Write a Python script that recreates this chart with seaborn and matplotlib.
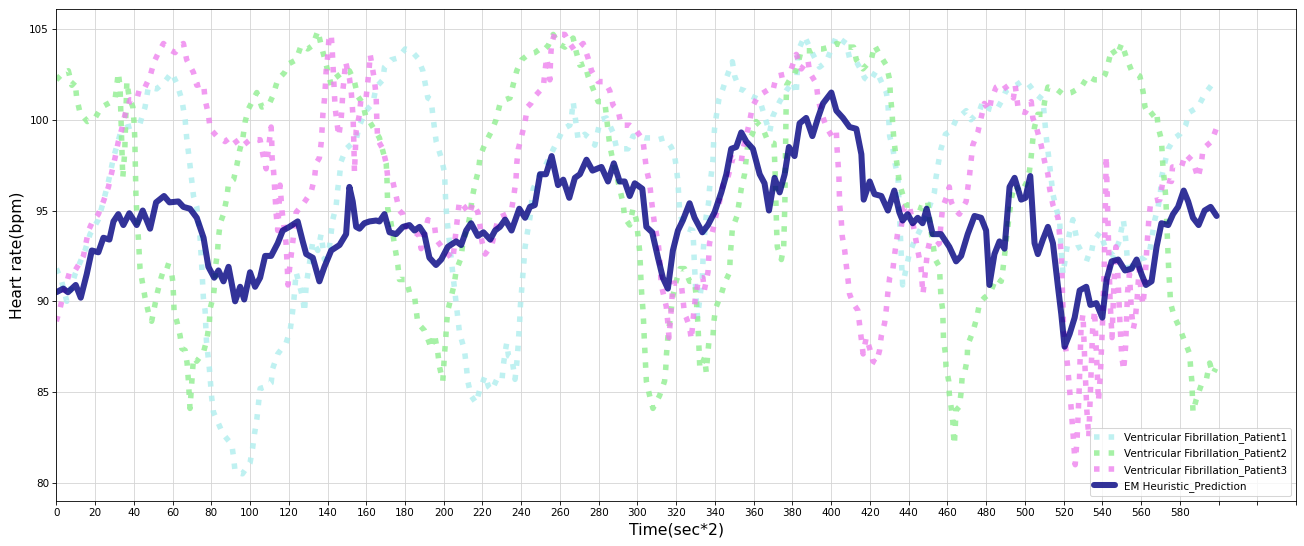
import matplotlib
matplotlib.use("Agg")
import matplotlib.pyplot as plt
import seaborn as sns
import pandas as pd

# (time, heart rate) points
p1_pts = [
    (0, 91.8), (2.5, 91.2), (5.4, 90.0), (9.7, 91.5), (14.8, 92.8), (17.4, 93.7), (21.7, 94.5),
    (24.3, 95.5), (26.9, 96.6), (29.5, 97.9), (32.9, 99.2), (36.4, 99.6), (40, 99.7), (43.2, 99.8),
    (45.8, 100.7), (47.5, 101.8), (51.8, 101.7), (56, 102.1), (59.6, 102.6), (62.2, 102.0),
    (64.8, 101.1), (66.5, 100.0), (67.3, 99.0), (68.2, 98.2), (69, 97.5), (70.8, 95.8), (72.5, 95.2),
    (74.2, 93.5), (75.1, 91.9), (75.9, 90.2), (76.8, 89.5), (77.5, 87.8), (78.2, 87.1), (79, 86.3),
    (80.2, 84.7), (81.1, 83.9), (86, 82.7), (90.6, 82.1), (91.5, 81.4), (92.3, 80.6), (96.1, 80.5),
    (100, 81.1), (101.3, 81.9), (102.3, 82.7), (103.5, 83.5), (104.4, 84.4), (105.2, 85.2),
    (108.3, 85.3), (110.9, 85.5), (111.7, 86.3), (114.3, 87.1), (118.6, 87.7), (120.7, 88.4),
    (121.7, 89.2), (122.5, 89.9), (123.8, 91.6), (127.2, 90.2), (128.1, 89.4), (129, 90.9),
    (132.4, 93.3), (135, 92.8), (136.7, 93.7), (138.4, 92.3), (141, 93.0), (142.7, 94.5),
    (144.4, 95.2), (145.3, 96.2), (146.2, 96.9), (147, 97.7), (149.6, 98.4), (154.8, 98.9),
    (156.5, 99.7), (159.9, 100.5), (163.4, 100.9), (165.1, 101.8), (168.6, 102.2), (169.4, 102.9),
    (172.8, 103.3), (176.3, 103.4), (180.1, 103.9), (183.2, 103.8), (186.6, 103.4), (189.2, 102.7),
    (191.8, 101.2), (193.5, 101.1), (194.4, 100.2), (196.1, 98.8), (198.7, 97.9), (200.4, 97.1),
    (201, 95.5), (201.6, 94.6), (202.3, 93.9), (204.7, 91.5), (206.4, 89.9), (208.1, 88.3),
    (210.7, 87.3), (211.6, 86.5), (212.4, 85.6), (214.1, 84.8), (216.7, 84.4), (218.5, 85.1),
    (221.4, 85.9), (223.1, 85.3), (224.8, 85.1), (227.4, 85.7), (230, 85.6), (230.8, 86.5),
    (231.7, 87.2), (232.5, 87.7), (233.4, 87.0), (235.1, 86.9), (236.8, 85.7), (237.7, 86.6),
    (238.3, 87.4), (238.8, 88.2), (239.2, 88.9), (239.6, 89.8), (240.2, 90.6), (240.8, 91.4),
    (241.4, 92.2), (242, 93.0), (243.2, 93.8), (244.5, 94.6), (245.4, 95.5), (246.2, 96.2),
    (248.8, 96.8), (253.1, 97.6), (256.2, 98.3), (259.1, 98.9), (261.7, 99.5), (265.1, 99.7),
    (266, 100.2), (266.8, 101.0), (268.5, 99.6), (269.4, 98.9), (272.8, 99.2), (276.3, 98.9),
    (278, 98.6), (279.2, 99.2), (280.9, 100.0), (284, 100.1), (287.4, 99.3), (289.1, 98.5),
    (291.7, 98.4), (295.1, 98.4), (297.7, 99.1), (300.3, 99.1), (303.7, 99.0), (307.1, 99.0),
    (310.6, 98.9), (314, 99.0), (317.4, 98.5), (319.1, 98.1), (320, 97.4), (320.9, 96.6),
    (321.4, 95.7), (321.8, 94.9), (323.4, 94.3), (326, 94.0), (328.6, 93.9), (329, 93.1),
    (329.3, 92.3), (329.7, 91.5), (330.1, 90.6), (330.5, 89.8), (331, 89.1), (333.5, 91.3),
    (334.1, 93.0), (335.5, 94.7), (336.7, 95.4), (337.2, 96.2), (338.1, 97.0), (339, 97.8),
    (339.3, 98.7), (339.8, 99.5), (340.7, 100.2), (342, 101.1), (344.1, 101.7), (345.9, 102.3),
    (349, 103.2), (350.2, 102.4), (352.7, 101.7), (355.3, 101.6), (358.8, 101.3), (363.1, 101.1),
    (365.6, 100.2), (368.2, 99.3), (369.9, 100.2), (373.4, 101.0), (376.8, 101.6), (380.3, 102.1),
    (382, 101.4), (382.9, 103.8), (386.3, 104.6), (390.6, 103.6), (394, 102.9), (397.5, 103.2),
    (402.7, 104.6), (407.8, 104.2), (409.5, 103.4), (413, 103.2), (415.6, 102.7), (417.3, 102.3),
    (419.9, 102.1), (423.3, 102.7), (428.5, 101.5), (429.3, 100.9), (429.8, 99.9), (430.2, 99.1),
    (431.9, 98.4), (432.8, 97.7), (434.5, 96.8), (435.2, 95.0), (436.2, 92.5), (436.9, 90.9),
    (440.3, 92.6), (442.9, 93.3), (447.2, 94.2), (450.7, 95.2), (453.3, 96.0), (454.1, 96.8),
    (455.5, 97.7), (456.7, 98.4), (459, 99.2), (461.9, 99.4), (464.5, 100.0), (469.7, 100.5),
    (472.2, 100.0), (476.6, 100.5), (478.3, 101.0), (481.7, 100.6), (485.2, 100.5), (487.8, 101.0),
    (490.3, 101.6), (495.5, 101.9), (498.1, 102.1), (501.6, 102.0), (505.9, 101.4), (509.3, 101.1),
    (511, 99.1), (512.8, 97.5), (514.5, 95.9), (516.2, 95.1), (517.9, 94.5), (518.8, 92.8),
    (519.7, 91.5), (521.5, 92.8), (523.1, 93.8), (524.8, 94.5), (527.4, 93.1), (530.9, 92.4),
    (533.7, 92.3), (535.4, 93.3), (538.8, 93.8), (541.4, 93.0), (545.7, 92.5), (548.7, 93.3),
    (550.8, 94.5), (551.7, 93.8), (552.5, 92.9), (553.4, 91.5), (556, 92.1), (558.5, 92.3),
    (562, 92.4), (564.5, 92.8), (565.9, 93.7), (567.1, 94.5), (568.8, 95.2), (570, 96.0),
    (570.5, 96.8), (572.2, 97.6), (574, 98.4), (577.4, 99.0), (580, 99.2), (583, 99.7),
    (584.8, 100.4), (589.4, 100.7), (592.8, 101.4), (596.3, 101.9), (598.5, 102.0),
]

p2_pts = [
    (0, 102.2), (2.8, 102.5), (6.2, 102.7), (8, 101.9), (9.7, 102.1), (10.5, 101.2), (12.2, 100.4),
    (16, 99.9), (20, 100.1), (23.4, 100.7), (26.9, 100.9), (30.3, 101.1), (32, 102.6), (32.9, 101.8),
    (33.4, 100.0), (33.8, 98.4), (34.3, 96.8), (35.3, 98.2), (36.4, 102.1), (37.5, 101.3),
    (39.5, 100.7), (40.1, 99.9), (40.5, 99.0), (40.8, 97.4), (41.1, 95.8), (41.5, 95.0),
    (41.9, 94.2), (42.4, 93.4), (42.8, 92.6), (43.2, 91.8), (45.8, 90.2), (47.5, 89.4), (49.2, 88.9),
    (50.5, 89.6), (52.2, 90.5), (54.1, 91.3), (56.2, 92.0), (59.1, 91.9), (60.1, 91.1), (60.5, 90.3),
    (60.8, 89.4), (62.2, 88.9), (63.9, 88.1), (64.8, 87.4), (66.5, 87.3), (67.5, 86.6), (68.2, 85.6),
    (68.6, 84.8), (69, 84.1), (70.8, 86.9), (72.5, 86.7), (76, 87.2), (77.7, 87.9), (79, 88.8),
    (79.4, 89.6), (81.1, 90.3), (81.9, 91.1), (82.3, 92.0), (83.2, 92.7), (83.7, 93.5), (84.6, 94.3),
    (86.3, 94.8), (88, 95.7), (88.9, 96.5), (91.5, 96.7), (93.2, 97.5), (94.6, 98.3), (96.3, 99.0),
    (97.5, 99.9), (99.2, 100.6), (103.5, 101.5), (106.1, 100.7), (109.6, 100.8), (111.7, 101.3),
    (114.3, 102.2), (117.8, 102.6), (120.3, 103.1), (123.8, 103.3), (126.4, 104.1), (129.8, 103.9),
    (132.4, 104.1), (135, 104.9), (136.5, 104.2), (138.4, 103.4), (140.1, 102.7), (141.9, 101.9),
    (144, 102.3), (148.7, 102.7), (151.3, 102.7), (153.9, 102.1), (155.6, 101.3), (158.2, 100.9),
    (159.9, 100.1), (161.7, 99.9), (166.8, 99.0), (168.5, 98.3), (170.3, 97.6), (170.7, 96.7),
    (171.1, 95.1), (172.8, 94.3), (175.1, 92.8), (176.3, 92.0), (177.1, 91.2), (180.6, 91.2),
    (182.3, 90.5), (184.9, 90.3), (185.7, 89.6), (186.6, 88.8), (190, 88.4), (192.6, 87.7),
    (193.5, 87.4), (195.2, 88.2), (196.9, 87.2), (197.8, 86.4), (199.5, 85.6), (200.4, 87.1),
    (201, 87.9), (201.5, 88.8), (202.1, 89.5), (203.8, 90.2), (205.5, 91.0), (206.4, 91.7),
    (209, 92.4), (209.8, 93.2), (212.4, 94.1), (213.7, 94.8), (214.5, 95.6), (216.2, 96.5),
    (217.9, 97.2), (218.8, 98.0), (221.4, 98.7), (224.8, 99.4), (227, 100.0), (229.1, 100.9),
    (231.7, 101.1), (234.2, 101.2), (236, 102.0), (237.7, 102.7), (240.2, 103.3), (243.7, 103.6),
    (247.1, 103.7), (249.7, 103.9), (251.4, 103.8), (254, 104.1), (256.5, 104.7), (259.1, 104.2),
    (262.5, 104.0), (266.8, 104.5), (268.5, 103.7), (270.3, 103.0), (272.8, 103.1), (274.5, 102.4),
    (277.1, 101.7), (279.7, 101.0), (283.1, 101.0), (284, 100.2), (284.8, 99.4), (285.7, 98.6),
    (287.4, 97.7), (289.1, 97.0), (292.6, 95.4), (293.4, 94.6), (296, 94.2), (297.7, 95.1),
    (299.4, 94.5), (300.3, 93.6), (301.1, 92.8), (301.5, 92.0), (301.8, 91.2), (302.2, 90.4),
    (302.8, 89.6), (303.2, 88.8), (303.5, 88.0), (303.9, 87.1), (304.2, 86.4), (304.6, 85.6),
    (306.3, 84.8), (308, 84.1), (311.4, 84.8), (314, 85.6), (314.6, 86.3), (315, 87.1),
    (315.7, 88.0), (316.6, 88.8), (317.4, 89.5), (318.3, 90.3), (320, 91.1), (322, 91.8),
    (324.3, 91.8), (326.9, 91.1), (329.5, 91.1), (330.4, 90.2), (330.7, 89.5), (331.2, 88.8),
    (331.6, 87.9), (331.9, 87.1), (332.2, 86.3), (334.7, 86.9), (335.5, 86.1), (336.9, 87.8),
    (339, 88.1), (339.5, 88.9), (340.3, 89.6), (343.3, 90.4), (345, 91.0), (347.6, 91.6),
    (347.9, 92.5), (348.4, 93.2), (349, 94.0), (351.4, 94.7), (352.4, 95.4), (353.6, 96.2),
    (355.3, 97.0), (356.2, 97.9), (357, 98.7), (357.9, 99.0), (359.3, 99.2), (361.3, 99.9),
    (364.8, 99.5), (367.4, 98.8), (370.5, 98.7), (370.8, 97.9), (371.1, 97.0), (371.3, 96.2),
    (371.5, 95.4), (371.7, 94.6), (371.9, 93.8), (372.2, 93.0), (374.3, 92.3), (375.5, 93.0),
    (375.7, 93.8), (375.9, 94.6), (376.1, 95.4), (376.2, 96.2), (376.3, 97.0), (376.4, 97.9),
    (376.5, 98.7), (376.6, 99.5), (376.7, 100.3), (376.8, 101.1), (377, 101.9), (378.6, 102.2),
    (381.1, 102.5), (382.9, 103.1), (384.5, 103.8), (387.2, 103.8), (390, 103.8), (392, 103.9),
    (395.5, 103.9), (399, 104.0), (403, 104.2), (407.3, 104.0), (411.6, 104.0), (413, 103.3),
    (416.4, 102.8), (420.7, 103.3), (422.4, 104.1), (425, 103.6), (428.5, 103.0), (430.2, 102.2),
    (430.6, 101.3), (431.4, 100.5), (431.8, 99.7), (432.4, 98.9), (433.3, 98.1), (434.3, 97.3),
    (435.2, 96.5), (436.9, 95.9), (438.6, 95.3), (442.1, 95.3), (447.2, 95.1), (449.8, 95.5),
    (452, 93.5), (453.8, 92.3), (455.9, 91.9), (456.3, 91.1), (456.7, 90.2), (457.6, 89.5),
    (457.8, 88.7), (458, 87.9), (459, 87.1), (459.3, 86.4), (460.7, 85.6), (461, 84.9),
    (461.9, 84.2), (462.8, 83.4), (463.1, 82.7), (463.6, 82.1), (464.5, 84.0), (466.2, 84.2),
    (467.1, 85.0), (467.6, 85.8), (468.8, 86.0), (470.2, 86.8), (470.5, 87.6), (473.1, 88.3),
    (475.2, 89.1), (476.6, 89.9), (479.1, 90.2), (481.7, 90.4), (483.4, 90.8), (485.2, 91.3),
    (487.8, 91.1), (488.6, 91.7), (489.5, 92.5), (490.3, 93.3), (491.2, 94.1), (492.1, 94.9),
    (492.9, 95.6), (494.7, 96.4), (498.1, 96.0), (500.7, 96.5), (502.4, 97.2), (503.3, 98.0),
    (504.1, 98.9), (505, 99.6), (506.7, 100.3), (509.3, 100.3), (510.2, 101.0), (511.9, 101.8),
    (516.2, 101.7), (519.7, 101.4), (524, 101.5), (529.1, 101.8), (532.6, 102.4), (536, 102.2),
    (539.5, 102.2), (541.5, 102.5), (543, 103.1), (544.8, 103.9), (547.4, 103.5), (550, 104.2),
    (552.5, 103.4), (555.1, 102.7), (559.4, 102.4), (561.1, 101.5), (562, 100.7), (564.5, 100.2),
    (568, 100.5), (568.8, 99.6), (570.5, 98.9), (571, 98.0), (571.4, 97.2), (572.2, 96.5),
    (572.8, 95.6), (573.1, 94.8), (573.4, 94.0), (573.7, 93.2), (574, 92.3), (574.3, 91.6),
    (574.8, 90.8), (575.2, 89.9), (577, 89.2), (580, 88.5), (582.5, 87.8), (585.1, 87.1),
    (585.6, 86.3), (586.2, 85.6), (586.5, 84.7), (586.8, 83.9), (588.5, 84.6), (591.1, 85.4),
    (593.7, 85.7), (595.4, 86.6), (597.1, 86.0), (598.5, 86.3),
]

p3_pts = [
    (0, 88.9), (1.9, 89.6), (3.6, 90.4), (7.1, 91.7), (9.7, 91.7), (13.1, 92.3), (14, 92.5),
    (16.6, 93.9), (18.3, 94.3), (21.7, 94.8), (24.3, 95.5), (26.9, 96.3), (28.6, 97.1), (30.3, 97.9),
    (32, 98.8), (33.8, 99.5), (35.5, 100.3), (38.1, 101.1), (41.5, 101.1), (43.2, 101.8),
    (45.8, 101.8), (48.4, 102.4), (50.5, 103.2), (53.2, 103.8), (55.3, 104.2), (57.9, 103.9),
    (61.3, 103.7), (64, 104.1), (65.6, 104.2), (67.3, 103.3), (70.8, 102.6), (72.5, 101.9),
    (76, 102.0), (76.8, 101.1), (78.5, 100.3), (79.4, 99.5), (82.8, 99.1), (87.1, 98.8),
    (90.6, 99.1), (94.9, 98.5), (96.6, 98.6), (100, 98.9), (105.2, 98.9), (106.6, 98.1),
    (108.3, 97.3), (109.6, 98.5), (110.9, 99.6), (111.2, 98.8), (111.4, 97.9), (112.2, 97.1),
    (112.6, 96.4), (113, 95.6), (113.5, 94.8), (114.3, 93.9), (115.5, 96.4), (116.5, 95.0),
    (117.8, 93.9), (118.6, 93.2), (119.3, 91.7), (119.6, 90.9), (120.3, 91.7), (121.2, 92.5),
    (122.1, 93.3), (122.9, 94.1), (123.8, 94.9), (127, 95.3), (131.5, 96.0), (133.3, 96.8),
    (134.1, 97.6), (135.8, 97.9), (136.7, 98.7), (137.2, 99.5), (137.6, 100.3), (138.4, 101.1),
    (138.9, 101.9), (139.3, 102.7), (140.1, 103.5), (140.7, 104.4), (141.9, 104.7), (142.4, 103.9),
    (142.8, 103.1), (143.2, 102.2), (143.5, 101.5), (143.9, 100.7), (144.8, 99.9), (145.8, 99.1),
    (147, 100.0), (147.5, 100.7), (147.9, 101.6), (148.7, 102.4), (149.3, 103.2), (151.3, 102.3),
    (152.2, 101.6), (152.7, 100.9), (153.2, 100.1), (153.6, 98.7), (153.9, 97.1), (154.8, 99.4),
    (156.5, 100.3), (157.3, 101.2), (159.9, 101.2), (160.8, 102.1), (161.5, 102.8), (162, 103.6),
    (164.2, 102.2), (165.1, 101.3), (165.3, 100.6), (165.5, 99.8), (165.9, 98.9), (168.5, 98.4),
    (170.3, 97.6), (171.1, 96.8), (173.7, 96.6), (175.4, 95.8), (177.1, 95.0), (178.9, 94.8),
    (180.6, 94.1), (184, 93.9), (187.5, 93.6), (188.3, 92.9), (191.8, 94.5), (195.2, 94.2),
    (196.1, 93.4), (200.4, 92.8), (204.7, 92.3), (207.3, 94.8), (208.1, 95.5), (210.7, 95.2),
    (213.3, 94.8), (215, 95.4), (217.6, 94.9), (218.8, 94.1), (219.7, 93.3), (221.4, 92.6),
    (224.8, 93.1), (228.2, 94.6), (232.5, 94.8), (235.1, 95.1), (236.3, 95.9), (237.3, 96.7),
    (237.7, 97.6), (238.5, 98.4), (240.2, 99.1), (242, 99.9), (243.2, 100.7), (245, 100.9),
    (247.1, 101.3), (248.8, 101.5), (251.4, 101.8), (252.2, 102.6), (253.1, 103.4), (254, 102.9),
    (254.8, 102.2), (255.2, 103.5), (255.7, 104.2), (257.4, 104.8), (260, 104.7), (262.5, 104.7),
    (265.1, 104.2), (267.7, 103.8), (272, 104.2), (274.5, 103.4), (276.3, 102.7), (279.7, 102.1),
    (283.1, 102.1), (285.7, 101.6), (287.4, 100.8), (290, 100.5), (291.7, 99.7), (296, 99.7),
    (299.4, 99.4), (302.8, 98.9), (303.7, 98.1), (304.6, 97.3), (306.3, 96.5), (307.1, 95.7),
    (308, 94.9), (308.9, 94.2), (310.6, 93.3), (311.4, 92.5), (312.3, 90.9), (314.9, 89.7),
    (315.7, 88.8), (316.3, 88.0), (317.4, 89.5), (318.3, 91.0), (320.9, 91.0), (322.6, 91.0),
    (323.5, 90.1), (324.3, 89.3), (325.2, 89.1), (326.9, 88.6), (327.8, 87.9), (329, 89.3),
    (329.8, 90.1), (331.2, 91.0), (332.1, 91.3), (333.8, 91.3), (334.5, 90.6), (336.4, 91.6),
    (337.2, 93.2), (338.9, 93.9), (340.7, 94.8), (342.4, 95.5), (344.1, 96.4), (345.9, 96.5),
    (349.3, 97.9), (353.6, 97.7), (354.5, 98.4), (356.2, 99.1), (357.9, 99.9), (359.3, 100.7),
    (362.2, 101.3), (368.2, 101.7), (369.9, 101.6), (371.7, 102.4), (376, 102.5), (379.4, 102.8),
    (382, 103.6), (384.6, 102.8), (388, 103.3), (388.9, 102.6), (392.3, 102.0), (393.2, 101.2),
    (394.9, 100.4), (397.5, 99.6), (400.9, 99.0), (402.7, 99.3), (403, 98.5), (403.5, 97.7),
    (404, 96.9), (404.2, 96.0), (404.4, 95.3), (405.2, 94.5), (405.7, 93.6), (407, 92.8),
    (407.8, 92.0), (408.7, 91.2), (409.5, 90.4), (411.3, 89.9), (413.8, 89.5), (414.7, 88.7),
    (415.6, 87.9), (416.5, 87.1), (418.1, 88.0), (419.9, 87.4), (421.6, 86.7), (423.3, 86.6),
    (425, 87.3), (425.9, 88.1), (427.6, 88.8), (428.5, 89.6), (429.3, 90.5), (430.2, 91.3),
    (431.9, 91.8), (432.8, 92.6), (433.6, 93.2), (434.5, 93.9), (436, 94.0), (437.8, 95.2),
    (440.3, 95.3), (442.9, 93.9), (444.7, 92.8), (446.4, 91.9), (446.8, 91.2), (447.4, 90.4),
    (449.8, 92.8), (450.7, 93.2), (453.3, 93.0), (455.9, 93.2), (456.7, 94.3), (457.6, 95.2),
    (460.2, 95.9), (461, 96.3), (461.9, 95.5), (463.6, 95.1), (466.2, 94.8), (469.7, 95.5),
    (470.5, 96.2), (471.4, 96.9), (472.2, 97.7), (473.1, 98.6), (475.7, 99.3), (477.4, 100.1),
    (479.1, 100.9), (481.7, 100.5), (482.6, 101.1), (485.2, 101.8), (488.6, 102.0), (494.1, 101.2),
    (495, 101.9), (496.7, 100.5), (500.2, 100.4), (503.3, 101.0), (504.1, 100.1), (505.9, 99.6),
    (508.4, 98.6), (510.2, 97.7), (511.9, 97.0), (512.8, 96.2), (514.5, 95.3), (517.1, 94.6),
    (517.9, 93.7), (518.8, 92.6), (520, 88.5), (522, 86.5), (524, 84.0), (526, 81.0), (527, 82.5),
    (528, 85.0), (529, 88.5), (530, 89.3), (531, 86.5), (532, 84.0), (533, 82.5), (534, 85.5),
    (535, 88.5), (536, 89.5), (537, 87.0), (538, 84.5), (539, 86.0), (540, 88.5), (541, 92.0),
    (542, 98.0), (543, 94.0), (544, 90.0), (545, 88.0), (546, 91.0), (547, 93.0), (548, 91.5),
    (549, 89.0), (550, 87.0), (551, 86.2), (552, 87.5), (553, 90.5), (554, 91.5), (555, 89.5),
    (556, 88.5), (557, 89.0), (558, 90.2), (559, 91.8), (560, 90.5), (561, 89.8), (562, 91.0),
    (563, 93.0), (564, 94.5), (565, 95.5), (569.7, 95.6), (571.4, 96.7), (575.7, 96.6),
    (576.2, 97.4), (580.8, 97.4), (583, 98.1), (586.8, 97.7), (589.4, 96.8), (591.1, 97.6),
    (592, 98.4), (596.3, 98.8), (598.8, 99.5),
]

em_pts = [
    (0, 90.5), (3.6, 90.7), (6, 90.5), (10, 90.9), (12.6, 90.2), (15.7, 91.5), (18.3, 92.8),
    (21.7, 92.7), (24.3, 93.5), (27.4, 93.4), (29.5, 94.4), (32, 94.8), (34.6, 94.2), (37.7, 94.85),
    (41.5, 94.2), (44.6, 95.0), (48.4, 94.0), (51.5, 95.45), (55.6, 95.8), (58.4, 95.45), (63, 95.5),
    (65.6, 95.2), (69, 95.1), (72.5, 94.6), (76, 93.5), (78.5, 91.9), (81.5, 91.3), (83.7, 91.7),
    (86.3, 91.1), (88.9, 91.9), (92.3, 90.0), (94.9, 90.8), (97, 90.1), (100, 91.6), (102.6, 90.8),
    (105.2, 91.3), (107.8, 92.5), (110.9, 92.5), (114.3, 93.2), (116.9, 93.9), (120.3, 94.1),
    (124.6, 94.4), (127.2, 93.3), (129, 92.6), (132.4, 92.4), (135.8, 91.1), (138.4, 91.9),
    (141.9, 92.8), (146.2, 93.1), (149.6, 93.7), (151.3, 96.3), (153, 95.5), (154.8, 94.1),
    (156.5, 94.0), (159, 94.3), (161.7, 94.4), (165.1, 94.45), (166.8, 94.4), (169.4, 94.8),
    (172, 93.8), (175.4, 93.7), (178.9, 94.1), (182.3, 94.2), (184.9, 93.9), (187.5, 94.1),
    (190, 93.7), (192.6, 92.4), (196, 92.0), (198.7, 92.3), (202.1, 93.0), (206.4, 93.3),
    (209, 93.1), (211.6, 93.9), (214.1, 94.3), (217.6, 93.6), (220.5, 93.8), (224, 93.4),
    (226.5, 93.9), (229, 94.1), (231.7, 94.5), (235, 93.9), (239, 95.1), (242, 94.6), (244.5, 95.2),
    (247, 95.3), (249.7, 97.0), (252.8, 97.0), (255.7, 98.0), (259, 96.4), (261.7, 96.7),
    (264.8, 95.7), (267.7, 96.8), (270.3, 97.0), (273.7, 97.8), (276.8, 97.2), (281.4, 97.4),
    (284.8, 96.6), (287.8, 97.6), (290.8, 96.6), (293.4, 96.6), (296, 95.8), (298.6, 96.5),
    (302.5, 96.2), (304.6, 94.1), (307.6, 93.8), (310.6, 92.4), (313.1, 91.3), (315.7, 90.7),
    (318.3, 92.8), (320.9, 93.9), (323.4, 94.45), (326.9, 95.4), (329.5, 94.6), (333.5, 93.8),
    (336.4, 94.2), (339.8, 94.9), (343.3, 96.0), (345.9, 97.0), (348.4, 98.4), (351, 98.5),
    (353.6, 99.3), (356.2, 98.8), (359.6, 98.4), (363.1, 97.0), (365.6, 96.5), (367.9, 95.0),
    (370.8, 96.8), (373.4, 96.0), (376, 97.0), (378.2, 98.5), (381.1, 98.0), (383.7, 99.8),
    (387.1, 100.1), (390.3, 99.1), (393.2, 100.1), (395.8, 100.9), (400.1, 101.5), (402.7, 100.5),
    (406.1, 100.1), (409.5, 99.6), (413, 99.5), (415.6, 98.1), (416.8, 95.6), (419.9, 96.6),
    (422.4, 95.9), (425.9, 95.8), (429.3, 95.0), (432.6, 96.1), (435.2, 94.9), (436.9, 94.45),
    (439.5, 94.8), (442.1, 94.3), (444.7, 94.6), (447.2, 94.3), (449.3, 95.1), (452.4, 93.7),
    (456.7, 93.7), (461, 93.0), (464.5, 92.2), (467.1, 92.5), (470.5, 93.7), (474, 94.7),
    (477.4, 94.6), (480, 93.9), (481.7, 90.9), (484.3, 92.6), (486.9, 93.3), (489.5, 92.9),
    (492.1, 96.3), (494.7, 96.8), (498.1, 95.6), (500.3, 95.7), (502.8, 96.9), (505, 93.2),
    (506.7, 92.6), (509.3, 93.4), (511.9, 94.1), (514.5, 93.2), (517.1, 90.8), (518.8, 89.3),
    (520.5, 87.5), (523.1, 88.2), (525.7, 89.1), (528.3, 90.6), (531.7, 90.8), (533.8, 89.8),
    (536.9, 89.9), (540, 89.1), (542.2, 91.2), (544.8, 92.2), (548.2, 92.3), (551.7, 91.7),
    (555.1, 91.8), (557.7, 92.3), (560.2, 91.5), (562.5, 90.9), (565.4, 91.1), (568, 93.0),
    (570.5, 94.3), (574, 94.2), (576.5, 94.8), (579.1, 95.2), (582, 96.1), (584.3, 95.5),
    (586.8, 94.6), (589.7, 94.2), (592.8, 95.0), (595.9, 95.2), (599, 94.7),
]

series_names = [
    "Ventricular Fibrillation_Patient1",
    "Ventricular Fibrillation_Patient2",
    "Ventricular Fibrillation_Patient3",
    "EM Heuristic_Prediction",
]
series_pts = [p1_pts, p2_pts, p3_pts, em_pts]
colors = ["paleturquoise", "lightgreen", "violet", "navy"]
styles = [":", ":", ":", "-"]
widths = [5.3, 5.3, 5.3, 5.8]

DPI = 75
fig, ax = plt.subplots(figsize=(1304 / DPI, 546 / DPI), dpi=DPI)
fig.subplots_adjust(left=0.0432, right=0.9939, bottom=0.0824, top=0.9835)

for name, pts, c, ls, lw in zip(series_names, series_pts, colors, styles, widths):
    df = pd.DataFrame(pts, columns=["t", "hr"])
    sns.lineplot(data=df, x="t", y="hr", ax=ax, color=c, linestyle=ls, linewidth=lw,
                 alpha=0.8, label=name, sort=False, estimator=None,
                 solid_joinstyle="round", solid_capstyle="round")

ax.grid(True, color="#d5d5d5", linewidth=0.8)
ax.set_xlim(0, 640)
ax.set_ylim(79.0, 106.1)
xt = list(range(0, 641, 20))
ax.set_xticks(xt)
ax.set_xticklabels([str(v) if v < 600 else "" for v in xt])
ax.set_xlabel("Time(sec*2)", fontsize=15)
ax.set_ylabel("Heart rate(bpm)", fontsize=15)
ax.legend(loc="lower right", fontsize=10)

plt.savefig("out.png", dpi=DPI)
